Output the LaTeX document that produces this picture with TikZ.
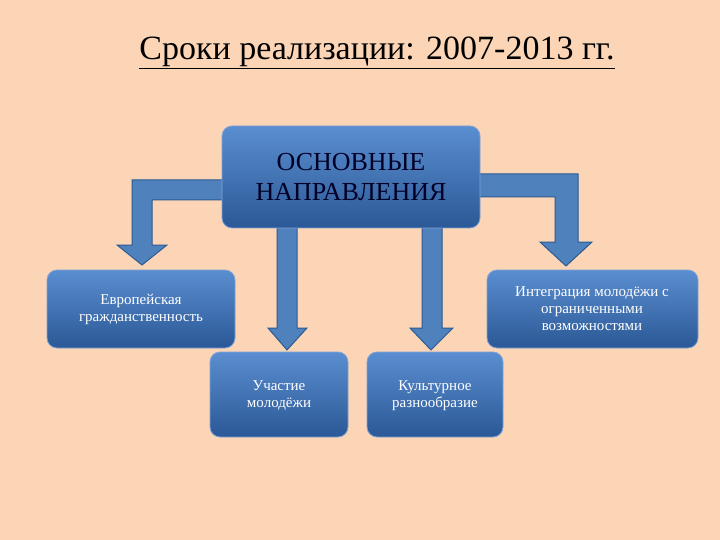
\documentclass[tikz,border=0pt]{standalone}
\usepackage{fontspec}
\setmainfont{Liberation Serif}
\begin{document}
\begin{tikzpicture}[x=1pt,y=-1pt,
  box/.style={rounded corners=10pt, top color=boxtop, bottom color=boxbot, draw=boxedge, line width=0.8pt},
  arr/.style={fill=arrfill, draw=arredge, line width=1pt, line join=miter},
  btxt/.style={text=white, font=\fontsize{15}{17}\selectfont, align=center}]
\definecolor{bg}{HTML}{FBD5B5}
\definecolor{boxtop}{HTML}{5A8ED0}
\definecolor{boxbot}{HTML}{2B5896}
\definecolor{boxedge}{HTML}{7FA3D8}
\definecolor{arrfill}{HTML}{4F81BD}
\definecolor{arredge}{HTML}{2C5A93}
\fill[bg] (0,0) rectangle (720,540);
\useasboundingbox (0,0) rectangle (720,540);
\node[font=\fontsize{34}{38}\selectfont, anchor=base] (title) at (377,60) {\underline{Сроки реализации: 2007-2013 гг.}};
% arrows
\draw[arr] (230,180) -- (132,180) -- (132,245) -- (117,245) -- (142,265) -- (167,245) -- (152,245) -- (152,200) -- (230,200) -- cycle;
\draw[arr] (470,174) -- (578,174) -- (578,242) -- (592,242) -- (566,266) -- (540,242) -- (555,242) -- (555,197) -- (470,197) -- cycle;
\draw[arr] (277,222) -- (277,328) -- (268,328) -- (287,350) -- (307,328) -- (297,328) -- (297,222) -- cycle;
\draw[arr] (422,222) -- (422,328) -- (410,328) -- (431,350) -- (453,328) -- (442,328) -- (442,222) -- cycle;
% boxes
\draw[box] (222,126) rectangle (480,228);
\node[font=\fontsize{26}{30}\selectfont, align=center, text=black!85!blue] (main) at (351,177) {ОСНОВНЫЕ\\НАПРАВЛЕНИЯ};
\draw[box] (47,270) rectangle (235,348);
\node[btxt] (eu) at (141,309) {Европейская\\гражданственность};
\draw[box] (487,270) rectangle (698,348);
\node[btxt] (int) at (592,309) {Интеграция молодёжи с\\ограниченными\\возможностями};
\draw[box] (210,352) rectangle (348,437);
\node[btxt] (uch) at (279,396) {Участие\\молодёжи};
\draw[box] (367,352) rectangle (503,437);
\node[btxt] (kul) at (435,396) {Культурное\\разнообразие};
\end{tikzpicture}
\end{document}
